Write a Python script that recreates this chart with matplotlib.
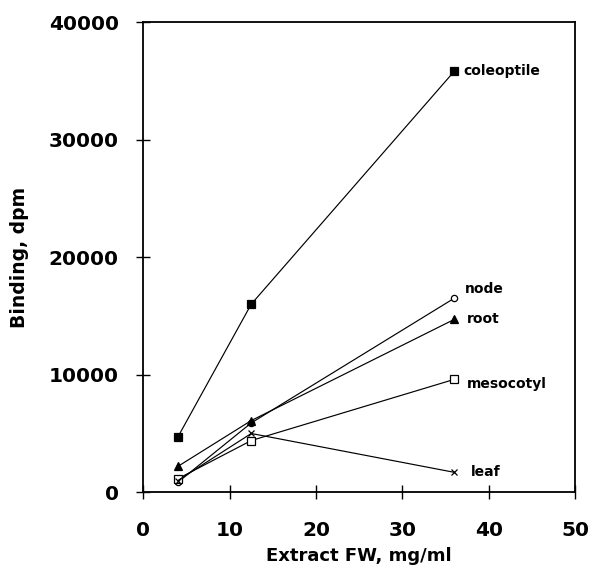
import matplotlib
matplotlib.use("Agg")
import matplotlib.pyplot as plt

plt.rcParams['font.family'] = ['DejaVu Sans']
plt.rcParams['font.weight'] = 'bold'

x_vals = [4, 12.5, 36]
coleoptile = [4700, 16000, 35800]
node = [850, 5900, 16500]
root = [2200, 6100, 14700]
mesocotyl = [1150, 4400, 9600]
leaf = [1000, 5000, 1700]

series_names = ["coleoptile", "node", "root", "mesocotyl", "leaf"]
series_vals = [coleoptile, node, root, mesocotyl, leaf]
markers = ['s', 'o', '^', 's', 'x']
fills = ['k', 'white', 'k', 'white', 'k']
msizes = [5.5, 4.5, 5.5, 5.5, 5]
label_offsets = [(7, 0), (8, 7), (9, 0), (9, -3), (12, 0)]

x_ticks = [0, 10, 20, 30, 40, 50]
y_ticks = [0, 10000, 20000, 30000, 40000]

fig = plt.figure(figsize=(5.92, 5.81), dpi=100)
ax = fig.add_axes([0.2421, 0.1527, 0.9713 - 0.2421, 0.9621 - 0.1527])

for name, vals, m, fc, ms, off in zip(series_names, series_vals, markers, fills, msizes, label_offsets):
    ax.plot(x_vals, vals, color='k', lw=0.85, marker=m, markersize=ms,
            markerfacecolor=fc, markeredgecolor='k', markeredgewidth=0.9)
    ax.annotate(name, xy=(x_vals[-1], vals[-1]), xytext=off, textcoords='offset points',
                ha='left', va='center', fontsize=10, fontweight='bold')

ax.set_xlim(0, 50)
ax.set_ylim(0, 40000)
ax.set_xticks(x_ticks)
ax.set_yticks(y_ticks)
ax.set_xticklabels([str(t) for t in x_ticks])
ax.set_yticklabels([str(t) for t in y_ticks])
ax.tick_params(axis='both', direction='inout', length=9.5, width=1.0,
               labelsize=14.5, colors='k')
ax.tick_params(axis='x', pad=16)
ax.tick_params(axis='y', pad=13)
for lab in ax.get_xticklabels() + ax.get_yticklabels():
    lab.set_fontweight('bold')
for s in ax.spines.values():
    s.set_linewidth(1.3)

ax.set_xlabel("Extract FW, mg/ml", fontsize=13, fontweight='bold', labelpad=5)
ax.set_ylabel("Binding, dpm", fontsize=13.5, fontweight='bold', labelpad=14)

fig.savefig("out.png", dpi=100)
